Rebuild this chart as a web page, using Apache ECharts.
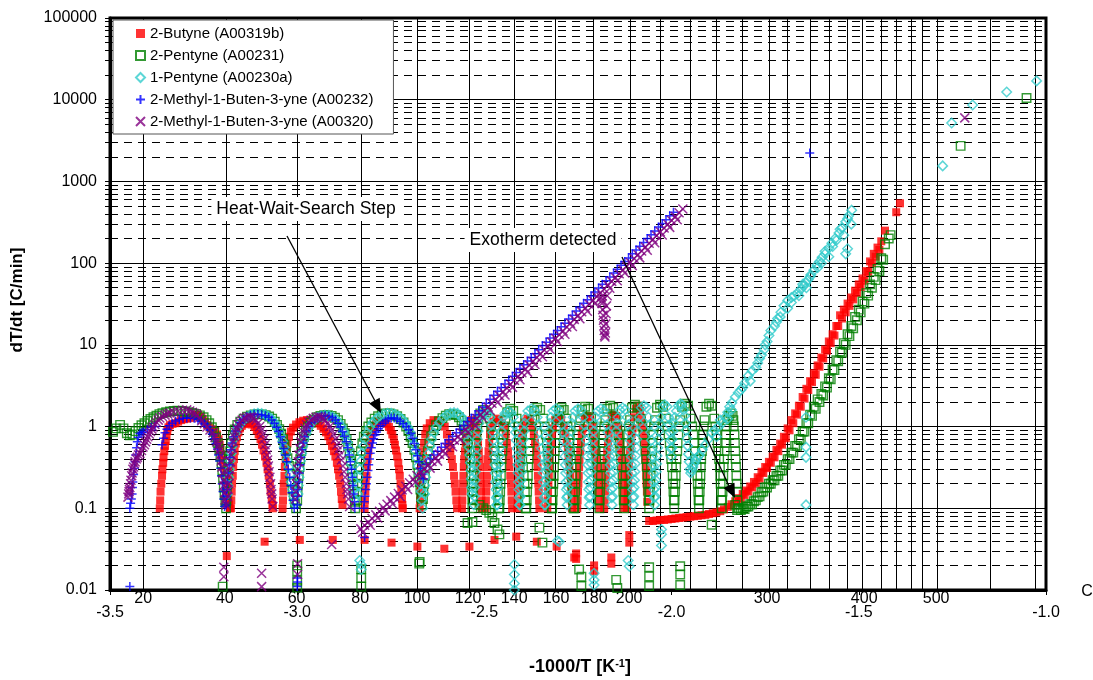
<!DOCTYPE html>
<html lang="en">
<head>
<meta charset="UTF-8" />
<title>HWS alkyne runs</title>
<style>
  body { margin: 0; padding: 0; background: #fff; }
  .chart { width: 1093px; height: 680px; }
</style>
</head>
<body>
<div class="chart"></div>
<script src="https://cdn.jsdelivr.net/npm/echarts@6/dist/echarts.min.js"></script>
<script>
const FONT = 'Liberation Sans, Arial, sans-serif';

// axis ticks / labels
const xTicks = [-3.5, -3.0, -2.5, -2.0, -1.5, -1.0];
const tempLabels = [20, 40, 60, 80, 100, 120, 140, 160, 180, 200, 300, 400, 500];
const tempGrid = [20, 40, 60, 80, 100, 120, 140, 160, 180, 200, 220, 240, 260, 280, 300,
  320, 340, 360, 380, 400, 420, 440, 460, 480, 500, 600, 700];
const decades = [0.01, 0.1, 1, 10, 100, 1000, 10000, 100000];

// ---- 2-Butyne (A00319b) ----
const butyneCycles = [
  [-3.367,0.1],[-3.366,0.125],[-3.365,0.16],[-3.363,0.2],[-3.361,0.25],[-3.36,0.3],[-3.358,0.36],[-3.357,0.42],[-3.355,0.5],[-3.353,0.58],[-3.351,0.67],[-3.349,0.77],[-3.347,0.88],[-3.344,0.98],[-3.34,1.04],[-3.333,1.08],[-3.325,1.1],[-3.318,1.15],[-3.31,1.2],[-3.302,1.23],[-3.294,1.25],[-3.286,1.27],[-3.278,1.33],[-3.271,1.38],[-3.265,1.4],[-3.259,1.33],[-3.253,1.25],[-3.247,1.15],[-3.241,1.05],[-3.234,0.97],[-3.226,0.92],[-3.219,0.88],[-3.214,0.8],[-3.21,0.7],[-3.207,0.6],[-3.205,0.52],[-3.202,0.45],[-3.199,0.39],[-3.196,0.33],[-3.193,0.28],[-3.19,0.23],[-3.188,0.19],[-3.186,0.16],[-3.184,0.13],[-3.182,0.11],[-3.18,0.1],
  [-3.177,0.1],[-3.176,0.125],[-3.175,0.16],[-3.174,0.2],[-3.172,0.25],[-3.171,0.32],[-3.169,0.4],[-3.167,0.5],[-3.164,0.62],[-3.161,0.74],[-3.157,0.85],[-3.153,0.95],[-3.148,1.02],[-3.142,1.07],[-3.135,1.1],[-3.128,1.1],[-3.121,1.06],[-3.114,0.99],[-3.108,0.9],[-3.103,0.8],[-3.098,0.7],[-3.094,0.6],[-3.09,0.51],[-3.086,0.43],[-3.082,0.36],[-3.079,0.3],[-3.076,0.25],[-3.073,0.2],[-3.071,0.16],[-3.068,0.13],[-3.066,0.11],[-3.065,0.1],
  [-3.039,0.1],[-3.038,0.125],[-3.037,0.16],[-3.036,0.2],[-3.034,0.25],[-3.033,0.32],[-3.031,0.4],[-3.029,0.5],[-3.026,0.62],[-3.022,0.75],[-3.017,0.87],[-3.011,0.97],[-3.003,1.06],[-2.994,1.13],[-2.984,1.18],[-2.974,1.2],[-2.964,1.19],[-2.954,1.15],[-2.945,1.09],[-2.937,1.02],[-2.93,0.94],[-2.923,0.85],[-2.917,0.76],[-2.912,0.67],[-2.907,0.58],[-2.902,0.5],[-2.898,0.43],[-2.894,0.36],[-2.891,0.3],[-2.888,0.25],[-2.885,0.2],[-2.883,0.16],[-2.881,0.13],[-2.879,0.11],
  [-2.82,0.1],[-2.819,0.125],[-2.818,0.16],[-2.817,0.2],[-2.815,0.25],[-2.814,0.32],[-2.812,0.4],[-2.81,0.5],[-2.807,0.62],[-2.804,0.75],[-2.8,0.88],[-2.795,1.0],[-2.789,1.09],[-2.782,1.16],[-2.775,1.18],[-2.768,1.15],[-2.761,1.08],[-2.755,0.99],[-2.75,0.9],[-2.746,0.8],[-2.742,0.7],[-2.739,0.6],[-2.736,0.51],[-2.733,0.43],[-2.73,0.36],[-2.728,0.3],[-2.726,0.25],[-2.724,0.2],[-2.722,0.16],[-2.72,0.13],[-2.719,0.11],[-2.718,0.1],
  [-2.673,0.1],[-2.672,0.125],[-2.671,0.16],[-2.67,0.2],[-2.669,0.25],[-2.668,0.32],[-2.666,0.4],[-2.664,0.5],[-2.661,0.63],[-2.658,0.8],[-2.654,0.95],[-2.646,1.1],[-2.636,1.2],[-2.625,1.18],[-2.615,1.1],[-2.606,1.0],[-2.6,0.8],[-2.595,0.63],[-2.591,0.5],[-2.587,0.4],[-2.584,0.32],[-2.581,0.25],[-2.579,0.2],[-2.577,0.16],[-2.575,0.125],[-2.573,0.1],
  [-2.56,0.1],[-2.559,0.125],[-2.558,0.16],[-2.557,0.2],[-2.556,0.25],[-2.555,0.32],[-2.554,0.4],[-2.552,0.5],[-2.55,0.63],[-2.548,0.8],[-2.545,0.95],[-2.54,1.1],[-2.534,1.2],[-2.528,1.12],[-2.523,1.0],[-2.52,0.8],[-2.517,0.63],[-2.515,0.5],[-2.513,0.4],[-2.512,0.32],[-2.511,0.25],[-2.51,0.2],[-2.509,0.16],[-2.508,0.125],[-2.507,0.1],
  [-2.497,0.1],[-2.496,0.125],[-2.495,0.16],[-2.494,0.2],[-2.493,0.25],[-2.492,0.32],[-2.491,0.4],[-2.489,0.5],[-2.487,0.63],[-2.485,0.8],[-2.482,0.95],[-2.476,1.15],[-2.468,1.25],[-2.46,1.2],[-2.453,1.1],[-2.447,1.0],[-2.443,0.8],[-2.44,0.63],[-2.437,0.5],[-2.435,0.4],[-2.433,0.32],[-2.431,0.25],[-2.429,0.2],[-2.428,0.16],[-2.427,0.125],[-2.426,0.1],
  [-2.412,0.1],[-2.411,0.125],[-2.41,0.16],[-2.409,0.2],[-2.408,0.25],[-2.407,0.32],[-2.406,0.4],[-2.404,0.5],[-2.402,0.63],[-2.4,0.8],[-2.397,0.95],[-2.392,1.15],[-2.385,1.25],[-2.378,1.2],[-2.372,1.0],[-2.368,0.8],[-2.365,0.63],[-2.362,0.5],[-2.36,0.4],[-2.358,0.32],[-2.357,0.25],[-2.356,0.2],[-2.355,0.16],[-2.354,0.125],[-2.353,0.1],
  [-2.332,0.1],[-2.331,0.125],[-2.33,0.16],[-2.329,0.2],[-2.328,0.25],[-2.327,0.32],[-2.326,0.4],[-2.324,0.5],[-2.322,0.63],[-2.32,0.8],[-2.317,0.95],[-2.311,1.2],[-2.303,1.3],[-2.295,1.25],[-2.288,1.0],[-2.284,0.8],[-2.28,0.63],[-2.277,0.5],[-2.275,0.4],[-2.273,0.32],[-2.271,0.25],[-2.269,0.2],[-2.268,0.16],[-2.267,0.125],[-2.266,0.1],
  [-2.252,0.1],[-2.251,0.125],[-2.25,0.16],[-2.249,0.2],[-2.248,0.25],[-2.247,0.32],[-2.246,0.4],[-2.244,0.5],[-2.242,0.63],[-2.24,0.8],[-2.237,0.95],[-2.232,1.25],[-2.225,1.35],[-2.218,1.3],[-2.212,1.0],[-2.208,0.8],[-2.205,0.63],[-2.202,0.5],[-2.2,0.4],[-2.198,0.32],[-2.197,0.25],[-2.196,0.2],[-2.195,0.16],[-2.194,0.125],[-2.193,0.1],
  [-2.18,0.1],[-2.179,0.125],[-2.178,0.16],[-2.177,0.2],[-2.176,0.25],[-2.175,0.32],[-2.174,0.4],[-2.172,0.5],[-2.17,0.63],[-2.168,0.8],[-2.165,0.95],[-2.16,1.3],[-2.154,1.4],[-2.148,1.35],[-2.143,1.0],[-2.14,0.8],[-2.137,0.63],[-2.135,0.5],[-2.133,0.4],[-2.132,0.32],[-2.131,0.25],[-2.13,0.2],[-2.129,0.16],[-2.128,0.125],[-2.127,0.1],
  [-2.119,0.1],[-2.118,0.125],[-2.117,0.16],[-2.116,0.2],[-2.115,0.25],[-2.114,0.32],[-2.113,0.4],[-2.111,0.5],[-2.109,0.63],[-2.107,0.8],[-2.104,0.95],[-2.1,1.3],[-2.095,1.65],[-2.089,1.8],[-2.084,1.55],[-2.08,1.25],[-2.077,1.0],[-2.075,0.8],[-2.073,0.63],[-2.071,0.5],[-2.07,0.4],[-2.069,0.32],[-2.068,0.25],[-2.067,0.2],[-2.066,0.16],[-2.065,0.12]
];
const butyneFlat = [
  [-2.06,0.07],[-2.05,0.07],[-2.04,0.071],[-2.03,0.072],[-2.02,0.072],[-2.01,0.073],[-2.0,0.074],[-1.99,0.075],[-1.98,0.076],[-1.97,0.077],[-1.96,0.078],[-1.95,0.079],[-1.94,0.08],[-1.93,0.081],[-1.92,0.082],[-1.91,0.083],[-1.9,0.085],[-1.89,0.087],[-1.88,0.089],[-1.87,0.092],[-1.86,0.097],[-1.85,0.104],[-1.84,0.112],[-1.83,0.122],[-1.82,0.133]
];
const butyneExo = [
  [-1.81,0.15],[-1.8,0.165],[-1.79,0.185],[-1.78,0.21],[-1.77,0.24],[-1.76,0.28],[-1.75,0.32],[-1.74,0.37],[-1.73,0.43],[-1.72,0.52],[-1.71,0.62],[-1.7,0.75],[-1.69,0.95],[-1.68,1.2],[-1.67,1.45],[-1.66,1.8],[-1.65,2.3],[-1.64,2.9],[-1.63,3.6],[-1.62,4.5],[-1.61,5.6],[-1.6,7],[-1.59,8.8],[-1.58,11],[-1.57,13.5],[-1.56,17],[-1.55,23],[-1.54,27],[-1.53,32],[-1.52,38],[-1.51,46],[-1.5,55],[-1.49,65],[-1.48,80],[-1.47,105],[-1.46,130],[-1.45,155],[-1.44,185],[-1.43,250],[-1.4,420],[-1.39,540],
  [-1.815,0.13],[-1.805,0.145],[-1.795,0.16],[-1.785,0.18],[-1.775,0.2],[-1.765,0.23],[-1.755,0.27],[-1.745,0.31],[-1.735,0.36],[-1.725,0.42],[-1.715,0.5],[-1.705,0.6],[-1.695,0.72],[-1.685,0.9],[-1.675,1.1],[-1.665,1.4],[-1.655,1.75],[-1.645,2.2],[-1.635,2.8],[-1.625,3.5],[-1.615,4.3],[-1.605,5.4],[-1.595,6.8],[-1.585,8.5],[-1.575,10.5],[-1.565,13],[-1.555,17],[-1.545,21],[-1.535,25],[-1.525,30],[-1.515,36],[-1.505,43],[-1.495,51],[-1.485,61],[-1.475,78],[-1.465,100],[-1.455,120],[-1.445,145]
];
const butyneLow = [
  [-3.188,0.026],[-3.087,0.039],[-2.993,0.041],[-2.905,0.041],[-2.82,0.041],[-2.748,0.038],[-2.679,0.034],[-2.607,0.032],[-2.54,0.034],[-2.473,0.041],[-2.415,0.045],[-2.36,0.039],[-2.307,0.034],[-2.26,0.025],[-2.255,0.028],[-2.255,0.024],[-2.207,0.02],[-2.207,0.017],[-2.161,0.025],[-2.161,0.021],[-2.113,0.047],[-2.113,0.038]
];

// ---- 2-Pentyne (A00231) ----
const pentyne2Cycles = [
  [-3.492,0.86],[-3.483,0.95],[-3.473,1.05],[-3.464,0.95],[-3.455,0.83],[-3.447,0.78],
  [-3.44,0.8],[-3.432,0.88],[-3.424,0.96],[-3.416,1.04],[-3.408,1.1],[-3.4,1.17],[-3.392,1.24],[-3.384,1.3],[-3.376,1.36],[-3.368,1.42],[-3.36,1.46],[-3.35,1.5],[-3.34,1.53],[-3.33,1.55],[-3.32,1.56],[-3.31,1.55],[-3.3,1.53],[-3.29,1.5],[-3.28,1.47],[-3.27,1.43],[-3.26,1.37],[-3.25,1.3],[-3.242,1.2],[-3.235,1.1],[-3.228,0.98],[-3.222,0.86],[-3.217,0.74],[-3.212,0.63],[-3.208,0.52],[-3.205,0.43],[-3.202,0.35],[-3.2,0.28],[-3.198,0.23],[-3.196,0.18],[-3.194,0.145],[-3.192,0.12],[-3.19,0.1],
  [-3.189,0.125],[-3.188,0.16],[-3.187,0.2],[-3.185,0.25],[-3.184,0.32],[-3.182,0.4],[-3.179,0.5],[-3.176,0.63],[-3.172,0.78],[-3.167,0.92],[-3.16,1.05],[-3.152,1.15],[-3.143,1.25],[-3.134,1.32],[-3.124,1.37],[-3.114,1.41],[-3.104,1.42],[-3.094,1.41],[-3.084,1.38],[-3.075,1.33],[-3.067,1.25],[-3.06,1.15],[-3.054,1.05],[-3.048,0.93],[-3.043,0.82],[-3.038,0.7],[-3.034,0.6],[-3.03,0.5],[-3.026,0.41],[-3.022,0.33],[-3.018,0.26],[-3.015,0.21],[-3.012,0.17],[-3.009,0.14],[-3.006,0.115],[-3.003,0.1],
  [-3.0,0.125],[-2.999,0.16],[-2.998,0.2],[-2.996,0.25],[-2.994,0.32],[-2.992,0.4],[-2.989,0.5],[-2.986,0.62],[-2.982,0.75],[-2.977,0.88],[-2.971,1.0],[-2.964,1.12],[-2.956,1.22],[-2.947,1.3],[-2.938,1.35],[-2.928,1.38],[-2.918,1.38],[-2.908,1.35],[-2.899,1.28],[-2.891,1.2],[-2.884,1.08],[-2.878,0.95],[-2.873,0.83],[-2.868,0.7],[-2.864,0.58],[-2.86,0.47],[-2.857,0.38],[-2.854,0.3],[-2.852,0.24],[-2.85,0.19],[-2.848,0.15],[-2.846,0.12],[-2.845,0.1],
  [-2.841,0.125],[-2.84,0.16],[-2.839,0.2],[-2.837,0.25],[-2.835,0.32],[-2.833,0.4],[-2.83,0.5],[-2.826,0.62],[-2.822,0.75],[-2.816,0.88],[-2.81,1.0],[-2.802,1.12],[-2.793,1.25],[-2.784,1.34],[-2.774,1.41],[-2.764,1.45],[-2.753,1.45],[-2.743,1.41],[-2.733,1.34],[-2.724,1.24],[-2.716,1.12],[-2.709,1.0],[-2.703,0.88],[-2.697,0.75],[-2.692,0.63],[-2.687,0.52],[-2.683,0.42],[-2.679,0.34],[-2.676,0.27],[-2.673,0.21],[-2.671,0.17],[-2.669,0.135],[-2.667,0.11],
  [-2.664,0.13],[-2.663,0.16],[-2.661,0.2],[-2.659,0.25],[-2.657,0.32],[-2.654,0.4],[-2.651,0.5],[-2.647,0.62],[-2.642,0.76],[-2.636,0.9],[-2.629,1.04],[-2.621,1.16],[-2.612,1.27],[-2.603,1.36],[-2.594,1.42],[-2.585,1.42],[-2.576,1.38],[-2.568,1.3],[-2.561,1.18],[-2.555,1.04],[-2.55,0.9],[-2.546,0.76],[-2.543,0.62],[-2.54,0.5],[-2.538,0.4],[-2.536,0.32],[-2.535,0.25],[-2.534,0.2],[-2.533,0.16],[-2.532,0.13],
  [-2.532,0.1],[-2.531,0.125],[-2.53,0.16],[-2.529,0.2],[-2.528,0.25],[-2.527,0.32],[-2.526,0.4],[-2.524,0.5],[-2.523,0.63],[-2.521,0.8],[-2.519,1.0],[-2.516,1.2],[-2.511,1.45],[-2.503,1.6],[-2.495,1.5],[-2.486,1.25],[-2.482,1.0],[-2.478,0.8],[-2.475,0.63],[-2.473,0.5],[-2.471,0.4],[-2.469,0.32],[-2.467,0.25],[-2.465,0.2],[-2.464,0.16],[-2.463,0.125],[-2.462,0.1],
  [-2.46,0.1],[-2.459,0.125],[-2.458,0.16],[-2.457,0.2],[-2.456,0.25],[-2.455,0.32],[-2.454,0.4],[-2.452,0.5],[-2.451,0.63],[-2.449,0.8],[-2.447,1.0],[-2.444,1.2],[-2.439,1.5],[-2.431,1.65],[-2.423,1.55],[-2.414,1.25],[-2.41,1.0],[-2.406,0.8],[-2.403,0.63],[-2.401,0.5],[-2.399,0.4],[-2.397,0.32],[-2.395,0.25],[-2.393,0.2],[-2.392,0.16],[-2.391,0.125],[-2.39,0.1],
  [-2.388,0.1],[-2.387,0.125],[-2.386,0.16],[-2.385,0.2],[-2.384,0.25],[-2.383,0.32],[-2.382,0.4],[-2.38,0.5],[-2.379,0.63],[-2.377,0.8],[-2.375,1.0],[-2.372,1.2],[-2.367,1.55],[-2.359,1.7],[-2.351,1.6],[-2.343,1.25],[-2.339,1.0],[-2.336,0.8],[-2.333,0.63],[-2.331,0.5],[-2.329,0.4],[-2.327,0.32],[-2.325,0.25],[-2.323,0.2],[-2.322,0.16],[-2.321,0.125],[-2.32,0.1],
  [-2.319,0.1],[-2.318,0.125],[-2.317,0.16],[-2.316,0.2],[-2.315,0.25],[-2.314,0.32],[-2.313,0.4],[-2.312,0.5],[-2.311,0.63],[-2.309,0.8],[-2.307,1.0],[-2.305,1.2],[-2.3,1.55],[-2.294,1.7],[-2.288,1.6],[-2.281,1.25],[-2.278,1.0],[-2.275,0.8],[-2.273,0.63],[-2.271,0.5],[-2.269,0.4],[-2.267,0.32],[-2.266,0.25],[-2.265,0.2],[-2.264,0.16],[-2.263,0.125],[-2.262,0.1],
  [-2.26,0.1],[-2.259,0.125],[-2.258,0.16],[-2.257,0.2],[-2.256,0.25],[-2.255,0.32],[-2.254,0.4],[-2.252,0.5],[-2.251,0.63],[-2.249,0.8],[-2.247,1.0],[-2.244,1.2],[-2.239,1.6],[-2.231,1.75],[-2.223,1.65],[-2.215,1.25],[-2.211,1.0],[-2.208,0.8],[-2.205,0.63],[-2.203,0.5],[-2.201,0.4],[-2.199,0.32],[-2.197,0.25],[-2.196,0.2],[-2.195,0.16],[-2.194,0.125],[-2.193,0.1],
  [-2.192,0.125],[-2.191,0.16],[-2.19,0.2],[-2.189,0.25],[-2.188,0.32],[-2.187,0.4],[-2.185,0.5],[-2.184,0.63],[-2.182,0.8],[-2.18,1.0],[-2.177,1.2],[-2.172,1.65],[-2.164,1.8],[-2.156,1.7],[-2.149,1.25],[-2.145,1.0],[-2.142,0.8],[-2.139,0.63],[-2.137,0.5],[-2.135,0.4],[-2.133,0.32],[-2.131,0.25],[-2.13,0.2],[-2.129,0.16],[-2.128,0.125],[-2.127,0.1],
  [-2.126,0.125],[-2.125,0.16],[-2.124,0.2],[-2.123,0.25],[-2.122,0.32],[-2.121,0.4],[-2.119,0.5],[-2.118,0.63],[-2.116,0.8],[-2.114,1.0],[-2.111,1.2],[-2.106,1.7],[-2.098,1.85],[-2.09,1.75],[-2.082,1.25],[-2.078,1.0],[-2.075,0.8],[-2.072,0.63],[-2.07,0.5],[-2.068,0.4],[-2.066,0.32],[-2.064,0.25],[-2.063,0.2],[-2.062,0.16],[-2.061,0.125],[-2.06,0.1],
  [-2.059,0.125],[-2.058,0.16],[-2.057,0.2],[-2.056,0.25],[-2.055,0.32],[-2.054,0.4],[-2.052,0.5],[-2.051,0.63],[-2.049,0.8],[-2.047,1.0],[-2.044,1.2],[-2.039,1.7],[-2.031,1.85],[-2.023,1.75],[-2.015,1.25],[-2.011,1.0],[-2.008,0.8],[-2.005,0.63],[-2.003,0.5],[-2.001,0.4],[-1.999,0.32],[-1.997,0.25],[-1.996,0.2],[-1.995,0.16],[-1.994,0.125],[-1.993,0.1],
  [-1.992,0.125],[-1.991,0.16],[-1.99,0.2],[-1.989,0.25],[-1.988,0.32],[-1.987,0.4],[-1.985,0.5],[-1.984,0.63],[-1.982,0.8],[-1.98,1.0],[-1.977,1.2],[-1.972,1.75],[-1.964,1.9],[-1.956,1.8],[-1.949,1.25],[-1.945,1.0],[-1.942,0.8],[-1.939,0.63],[-1.937,0.5],[-1.935,0.4],[-1.933,0.32],[-1.931,0.25],[-1.93,0.2],[-1.929,0.16],[-1.928,0.125],[-1.927,0.1],
  [-1.926,0.125],[-1.925,0.16],[-1.924,0.2],[-1.923,0.25],[-1.922,0.32],[-1.921,0.4],[-1.919,0.5],[-1.918,0.63],[-1.916,0.8],[-1.914,1.0],[-1.912,1.2],[-1.907,1.75],[-1.9,1.9],[-1.893,1.8],[-1.886,1.25],[-1.883,1.0],[-1.88,0.8],[-1.877,0.63],[-1.875,0.5],[-1.873,0.4],[-1.871,0.32],[-1.87,0.25],[-1.869,0.2],[-1.868,0.16],[-1.867,0.125],[-1.866,0.1],
  [-1.865,0.125],[-1.864,0.16],[-1.863,0.2],[-1.862,0.25],[-1.861,0.32],[-1.86,0.4],[-1.858,0.5],[-1.857,0.63],[-1.855,0.8],[-1.853,1.0],[-1.851,1.2],[-1.847,1.35],[-1.842,1.45],[-1.837,1.35],[-1.835,1.2],[-1.834,1.0],[-1.832,0.8],[-1.831,0.63],[-1.83,0.5],[-1.829,0.4],[-1.828,0.32],[-1.827,0.25],[-1.826,0.2],[-1.825,0.16],[-1.824,0.125],[-1.823,0.1]
];
const pentyne2Exo = [
  [-1.83,0.11],[-1.82,0.1],[-1.81,0.1],[-1.8,0.105],[-1.79,0.112],[-1.78,0.122],[-1.77,0.137],[-1.76,0.157],[-1.75,0.18],[-1.74,0.2],[-1.73,0.22],[-1.72,0.25],[-1.71,0.29],[-1.7,0.34],[-1.69,0.4],[-1.68,0.48],[-1.67,0.58],[-1.66,0.7],[-1.65,0.86],[-1.64,1.1],[-1.63,1.4],[-1.62,1.75],[-1.61,2.15],[-1.6,2.5],[-1.59,3.1],[-1.58,3.9],[-1.57,5],[-1.56,6.5],[-1.55,8.3],[-1.54,10.5],[-1.53,13.5],[-1.52,17],[-1.51,22],[-1.5,27],[-1.49,34],[-1.48,43],[-1.47,55],[-1.46,68],[-1.45,85],[-1.44,115],[-1.43,170],[-1.42,200],[-1.415,220],
  [-1.825,0.095],[-1.815,0.095],[-1.805,0.098],[-1.795,0.105],[-1.785,0.112],[-1.775,0.125],[-1.765,0.14],[-1.755,0.16],[-1.745,0.18],[-1.735,0.2],[-1.725,0.22],[-1.715,0.25],[-1.705,0.29],[-1.695,0.34],[-1.685,0.4],[-1.675,0.48],[-1.665,0.58],[-1.655,0.7],[-1.645,0.87],[-1.635,1.1],[-1.625,1.35],[-1.615,1.65],[-1.605,2.0],[-1.595,2.4],[-1.585,3.0],[-1.575,3.8],[-1.565,4.9],[-1.555,6.3],[-1.545,8],[-1.535,10],[-1.525,12.8],[-1.515,16],[-1.505,20],[-1.495,25],[-1.485,32],[-1.475,40],[-1.465,50],[-1.455,62],[-1.445,80],[-1.435,110]
];
const pentyne2Low = [
  [-3.199,0.011],[-3.0,0.02],[-3.0,0.017],[-3.0,0.013],[-3.0,0.0107],[-2.829,0.018],[-2.829,0.014],[-2.829,0.011],[-2.673,0.022],[-2.674,0.021],
  [-2.545,0.066],[-2.532,0.068],[-2.513,0.11],[-2.503,0.1],[-2.495,0.095],[-2.487,0.088],[-2.479,0.078],[-2.473,0.066],[-2.465,0.055],[-2.46,0.048],
  [-2.353,0.058],[-2.345,0.038],[-2.247,0.0178],[-2.241,0.0145],[-2.241,0.0112],[-2.148,0.0133],[-2.145,0.0106],[-2.06,0.019],[-2.06,0.0147],[-2.06,0.0112],[-1.977,0.0195],[-1.977,0.0155],[-1.977,0.0115],[-1.893,0.063]
];
const pentyne2High = [[-1.228,2720],[-1.052,10500]];

// ---- 1-Pentyne (A00230a) ----
const pentyne1Cycles = [
  [-3.186,0.15],[-3.185,0.19],[-3.183,0.24],[-3.181,0.3],[-3.179,0.38],[-3.176,0.47],[-3.173,0.58],[-3.169,0.7],[-3.164,0.83],[-3.158,0.96],[-3.151,1.08],[-3.143,1.2],[-3.134,1.3],[-3.125,1.38],[-3.115,1.43],[-3.105,1.45],[-3.095,1.44],[-3.085,1.4],[-3.076,1.33],[-3.068,1.24],[-3.061,1.13],[-3.055,1.01],[-3.049,0.89],[-3.044,0.77],[-3.039,0.66],[-3.035,0.56],[-3.031,0.47],[-3.027,0.39],[-3.023,0.32],[-3.019,0.26],[-3.016,0.21],[-3.013,0.17],[-3.01,0.14],[-3.007,0.115],
  [-2.998,0.15],[-2.997,0.19],[-2.995,0.24],[-2.993,0.3],[-2.991,0.38],[-2.988,0.47],[-2.985,0.58],[-2.981,0.7],[-2.976,0.83],[-2.97,0.96],[-2.963,1.08],[-2.955,1.2],[-2.946,1.29],[-2.936,1.35],[-2.926,1.38],[-2.916,1.37],[-2.906,1.32],[-2.897,1.24],[-2.889,1.13],[-2.882,1.01],[-2.876,0.88],[-2.871,0.76],[-2.866,0.64],[-2.862,0.53],[-2.859,0.43],[-2.856,0.35],[-2.853,0.28],[-2.851,0.22],[-2.849,0.17],[-2.847,0.13],
  [-2.838,0.15],[-2.837,0.19],[-2.835,0.24],[-2.833,0.3],[-2.83,0.38],[-2.827,0.47],[-2.823,0.58],[-2.819,0.7],[-2.813,0.84],[-2.806,0.98],[-2.798,1.12],[-2.789,1.25],[-2.779,1.35],[-2.769,1.42],[-2.759,1.45],[-2.749,1.45],[-2.739,1.41],[-2.729,1.34],[-2.72,1.24],[-2.712,1.12],[-2.705,0.99],[-2.699,0.86],[-2.693,0.73],[-2.688,0.61],[-2.684,0.5],[-2.68,0.41],[-2.677,0.33],[-2.674,0.26],[-2.671,0.2],[-2.669,0.16],[-2.667,0.125],[-2.665,0.1],
  [-2.66,0.15],[-2.659,0.19],[-2.657,0.24],[-2.655,0.3],[-2.652,0.38],[-2.649,0.47],[-2.645,0.58],[-2.641,0.7],[-2.635,0.84],[-2.628,0.98],[-2.62,1.12],[-2.611,1.26],[-2.601,1.38],[-2.591,1.46],[-2.581,1.48],[-2.572,1.45],[-2.564,1.36],[-2.558,1.24],[-2.553,1.1],[-2.549,0.96],[-2.546,0.82],[-2.543,0.68],[-2.541,0.56],[-2.539,0.45],[-2.537,0.36],[-2.536,0.29],[-2.535,0.23],[-2.534,0.18],[-2.533,0.15],
  [-2.528,0.11],[-2.527,0.14],[-2.526,0.18],[-2.525,0.22],[-2.524,0.28],[-2.523,0.35],[-2.522,0.44],[-2.52,0.55],[-2.519,0.7],[-2.517,0.88],[-2.515,1.1],[-2.512,1.3],[-2.507,1.4],[-2.499,1.5],[-2.491,1.42],[-2.485,1.3],[-2.481,1.05],[-2.478,0.85],[-2.476,0.68],[-2.474,0.54],[-2.473,0.43],[-2.472,0.34],[-2.471,0.27],[-2.47,0.21],[-2.469,0.17],[-2.468,0.135],[-2.467,0.11],
  [-2.466,0.11],[-2.465,0.14],[-2.464,0.18],[-2.463,0.22],[-2.462,0.28],[-2.461,0.35],[-2.46,0.44],[-2.458,0.55],[-2.457,0.7],[-2.455,0.88],[-2.453,1.1],[-2.45,1.3],[-2.445,1.45],[-2.437,1.55],[-2.429,1.48],[-2.423,1.3],[-2.42,1.05],[-2.417,0.85],[-2.415,0.68],[-2.413,0.54],[-2.412,0.43],[-2.411,0.34],[-2.41,0.27],[-2.409,0.21],[-2.408,0.17],[-2.407,0.135],[-2.406,0.11],
  [-2.405,0.11],[-2.404,0.14],[-2.403,0.18],[-2.402,0.22],[-2.401,0.28],[-2.4,0.35],[-2.399,0.44],[-2.397,0.55],[-2.396,0.7],[-2.394,0.88],[-2.392,1.1],[-2.389,1.3],[-2.384,1.55],[-2.375,1.65],[-2.366,1.58],[-2.359,1.3],[-2.355,1.05],[-2.352,0.85],[-2.349,0.68],[-2.347,0.54],[-2.345,0.43],[-2.344,0.34],[-2.343,0.27],[-2.342,0.21],[-2.341,0.17],[-2.34,0.135],[-2.339,0.11],
  [-2.338,0.11],[-2.337,0.14],[-2.336,0.18],[-2.335,0.22],[-2.334,0.28],[-2.333,0.35],[-2.332,0.44],[-2.33,0.55],[-2.329,0.7],[-2.327,0.88],[-2.325,1.1],[-2.322,1.3],[-2.317,1.55],[-2.309,1.65],[-2.301,1.58],[-2.296,1.3],[-2.293,1.05],[-2.29,0.85],[-2.288,0.68],[-2.286,0.54],[-2.285,0.43],[-2.284,0.34],[-2.283,0.27],[-2.282,0.21],[-2.281,0.17],[-2.28,0.135],[-2.279,0.11],
  [-2.278,0.14],[-2.277,0.18],[-2.276,0.22],[-2.275,0.28],[-2.274,0.35],[-2.273,0.44],[-2.271,0.55],[-2.27,0.7],[-2.268,0.88],[-2.266,1.1],[-2.263,1.3],[-2.258,1.55],[-2.25,1.65],[-2.242,1.58],[-2.236,1.3],[-2.233,1.05],[-2.23,0.85],[-2.228,0.68],[-2.226,0.54],[-2.225,0.43],[-2.224,0.34],[-2.223,0.27],[-2.222,0.21],[-2.221,0.17],[-2.22,0.135],[-2.219,0.11],
  [-2.218,0.14],[-2.217,0.18],[-2.216,0.22],[-2.215,0.28],[-2.214,0.35],[-2.213,0.44],[-2.211,0.55],[-2.21,0.7],[-2.208,0.88],[-2.206,1.1],[-2.203,1.3],[-2.197,1.55],[-2.189,1.65],[-2.181,1.58],[-2.176,1.3],[-2.173,1.05],[-2.17,0.85],[-2.168,0.68],[-2.166,0.54],[-2.165,0.43],[-2.164,0.34],[-2.163,0.27],[-2.162,0.21],[-2.161,0.17],[-2.16,0.135],[-2.159,0.11],
  [-2.158,0.14],[-2.157,0.18],[-2.156,0.22],[-2.155,0.28],[-2.154,0.35],[-2.153,0.44],[-2.151,0.55],[-2.15,0.7],[-2.148,0.88],[-2.146,1.1],[-2.143,1.3],[-2.138,1.6],[-2.131,1.7],[-2.124,1.62],[-2.119,1.3],[-2.116,1.05],[-2.113,0.85],[-2.111,0.68],[-2.109,0.54],[-2.108,0.43],[-2.107,0.34],[-2.106,0.27],[-2.105,0.21],[-2.104,0.17],[-2.103,0.135],[-2.102,0.11],
  [-2.101,0.14],[-2.1,0.18],[-2.099,0.22],[-2.098,0.28],[-2.097,0.35],[-2.096,0.44],[-2.094,0.55],[-2.093,0.7],[-2.091,0.88],[-2.089,1.1],[-2.086,1.3],[-2.081,1.7],[-2.074,1.8],[-2.067,1.72],[-2.062,1.3],[-2.059,1.05],[-2.056,0.85],[-2.054,0.68],[-2.052,0.54],[-2.051,0.43],[-2.05,0.34],[-2.049,0.27],[-2.048,0.21],[-2.047,0.17],[-2.046,0.135],[-2.045,0.11],
  [-2.044,0.14],[-2.043,0.18],[-2.042,0.22],[-2.041,0.28],[-2.04,0.35],[-2.039,0.44],[-2.037,0.55],[-2.036,0.7],[-2.034,0.88],[-2.032,1.1],[-2.029,1.3],[-2.024,1.75],[-2.018,1.85],[-2.012,1.75],[-2.008,1.3],[-2.006,1.05],[-2.004,0.85],[-2.003,0.68],[-2.002,0.54],[-2.001,0.43],
  [-1.999,0.55],[-1.998,0.7],[-1.996,0.88],[-1.994,1.1],[-1.991,1.3],[-1.987,1.55],[-1.982,1.8],[-1.977,1.9],[-1.972,1.85],[-1.968,1.6],[-1.965,1.35],[-1.963,1.1],[-1.961,0.9],[-1.959,0.72],[-1.957,0.58],[-1.955,0.46],[-1.953,0.37],[-1.951,0.3],[-1.949,0.27],[-1.946,0.29],[-1.943,0.32],[-1.94,0.35],[-1.936,0.38],[-1.932,0.41],[-1.928,0.44]
];
const pentyne1Exo = [
  [-1.925,0.45],[-1.918,0.52],[-1.91,0.6],[-1.902,0.7],[-1.892,0.84],[-1.885,0.9],[-1.875,1.0],[-1.865,1.1],[-1.857,1.3],[-1.85,1.5],[-1.845,1.75],[-1.839,1.95],[-1.83,2.3],[-1.822,2.6],[-1.815,2.8],[-1.805,3.4],[-1.795,4.2],[-1.785,4.8],[-1.775,5.3],[-1.765,6.8],[-1.753,8.7],[-1.745,11],[-1.735,15],[-1.725,17],[-1.717,21],[-1.708,25],[-1.7,30],[-1.69,35],[-1.68,38],[-1.672,40],[-1.663,43],[-1.655,48],[-1.648,52],[-1.642,57],[-1.635,63],[-1.628,72],[-1.62,82],[-1.612,95],[-1.605,105],[-1.598,118],[-1.59,130],[-1.58,153],[-1.572,175],[-1.563,200],[-1.553,233],[-1.545,270],[-1.535,320],[-1.527,380],[-1.519,445],
  [-1.88,0.75],[-1.87,1.2],[-1.85,1.25],[-1.84,1.6],[-1.81,3.0],[-1.79,3.6],[-1.77,6],[-1.76,7.5],[-1.75,10],[-1.74,13],[-1.72,19],[-1.71,22],[-1.69,28],[-1.68,33],[-1.66,40],[-1.65,55],[-1.64,50],[-1.63,68],[-1.61,88],[-1.6,100],[-1.59,140],[-1.58,120],[-1.57,160],[-1.56,190],[-1.55,260],[-1.54,220],[-1.53,350],[-1.52,300],[-1.535,130],[-1.53,150]
];
const pentyne1Low = [
  [-2.833,0.023],[-2.829,0.0205],[-2.829,0.0178],[-2.42,0.0205],[-2.42,0.0155],[-2.42,0.012],[-2.42,0.01],[-2.305,0.04],[-2.3,0.039],[-2.207,0.016],[-2.207,0.0133],[-2.207,0.0115],[-2.113,0.0195],[-2.116,0.023],[-2.027,0.055],[-2.027,0.048],[-2.027,0.035],
  [-1.641,1.3],[-1.641,0.56],[-1.641,0.42],[-1.641,0.11]
];
const pentyne1High = [[-1.276,1550],[-1.252,5200],[-1.196,8630],[-1.105,12450],[-1.025,17000]];

// ---- 2-Methyl-1-Buten-3-yne (A00232) ----
const mbyA232Cycles = [
  [-3.447,0.1],[-3.445,0.115],[-3.443,0.13],[-3.441,0.15],[-3.44,0.18],[-3.439,0.21],[-3.437,0.26],[-3.435,0.31],[-3.433,0.37],[-3.431,0.45],[-3.429,0.55],[-3.427,0.65],[-3.424,0.74],[-3.42,0.82],[-3.415,0.85],[-3.41,0.86],[-3.4,0.92],[-3.39,0.98],[-3.38,1.0],[-3.361,0.6],[-3.357,0.72],[-3.353,0.84],[-3.348,0.93],[-3.342,1.02],[-3.334,1.1],[-3.325,1.17],[-3.315,1.22],[-3.305,1.26],[-3.295,1.27],[-3.285,1.27],[-3.275,1.26],[-3.265,1.22],[-3.256,1.16],[-3.248,1.08],[-3.24,1.0],[-3.233,0.91],[-3.227,0.81],[-3.222,0.71],[-3.217,0.62],[-3.213,0.53],[-3.21,0.45],[-3.207,0.38],[-3.204,0.31],[-3.202,0.25],[-3.2,0.2],[-3.198,0.16],[-3.196,0.13],[-3.194,0.105],
  [-3.19,0.11],[-3.189,0.14],[-3.188,0.17],[-3.186,0.21],[-3.184,0.27],[-3.182,0.34],[-3.18,0.42],[-3.177,0.52],[-3.174,0.63],[-3.17,0.75],[-3.165,0.88],[-3.159,1.0],[-3.152,1.12],[-3.144,1.23],[-3.135,1.32],[-3.125,1.38],[-3.115,1.42],[-3.105,1.42],[-3.095,1.4],[-3.085,1.36],[-3.076,1.3],[-3.068,1.2],[-3.061,1.1],[-3.055,0.98],[-3.05,0.87],[-3.045,0.75],[-3.04,0.64],[-3.036,0.54],[-3.032,0.45],[-3.028,0.37],[-3.024,0.3],[-3.02,0.24],[-3.017,0.19],[-3.014,0.155],[-3.011,0.125],[-3.008,0.1],
  [-3.0,0.11],[-2.999,0.14],[-2.998,0.17],[-2.996,0.21],[-2.994,0.27],[-2.992,0.34],[-2.99,0.42],[-2.987,0.52],[-2.984,0.63],[-2.98,0.75],[-2.975,0.88],[-2.969,1.0],[-2.962,1.12],[-2.954,1.22],[-2.945,1.3],[-2.935,1.35],[-2.925,1.36],[-2.915,1.34],[-2.906,1.28],[-2.898,1.2],[-2.891,1.1],[-2.885,0.99],[-2.879,0.87],[-2.874,0.76],[-2.869,0.65],[-2.865,0.55],[-2.861,0.45],[-2.858,0.37],[-2.855,0.3],[-2.853,0.24],[-2.851,0.19],[-2.849,0.15],[-2.847,0.12],[-2.846,0.1],
  [-2.822,0.1],[-2.821,0.12],[-2.819,0.14],[-2.817,0.17],[-2.815,0.2],[-2.813,0.24],[-2.811,0.29],[-2.809,0.34],[-2.807,0.4],[-2.805,0.47],[-2.802,0.55],[-2.799,0.63],[-2.796,0.71],[-2.792,0.79],[-2.788,0.86],[-2.783,0.94],[-2.777,1.02],[-2.771,1.1],[-2.764,1.17],[-2.757,1.23],[-2.749,1.27],[-2.741,1.27],[-2.733,1.23],[-2.725,1.16],[-2.717,1.08],[-2.709,1.0],[-2.702,0.92],[-2.696,0.83],[-2.691,0.72],[-2.687,0.62],[-2.683,0.52],[-2.679,0.44],[-2.675,0.37],[-2.671,0.31],[-2.667,0.26],[-2.663,0.23]
];
const mbyA232Line = [
  [-2.655,0.345],[-2.645,0.4],[-2.635,0.45],[-2.625,0.5],[-2.615,0.56],[-2.605,0.62],[-2.595,0.69],[-2.585,0.76],[-2.575,0.84],[-2.565,0.93],[-2.555,1.03],[-2.545,1.15],[-2.535,1.27],[-2.525,1.4],[-2.515,1.56],[-2.505,1.73],[-2.495,1.93],[-2.485,2.16],[-2.475,2.42],[-2.465,2.7],[-2.455,3.0],[-2.445,3.33],[-2.435,3.68],[-2.425,4.14],[-2.415,4.6],[-2.405,5.12],[-2.395,5.7],[-2.385,6.33],[-2.375,7.0],[-2.365,7.8],[-2.355,8.74],[-2.345,9.8],[-2.335,10.8],[-2.325,12.1],[-2.315,13.5],[-2.305,15],[-2.295,16.7],[-2.285,18.4],[-2.275,20.7],[-2.265,23],[-2.255,25.9],[-2.245,28.8],[-2.235,32.2],[-2.225,35.7],[-2.215,39.7],[-2.205,44.3],[-2.195,49.5],[-2.185,55.2],[-2.175,61],[-2.165,67.9],[-2.155,75.9],[-2.145,84],[-2.135,94.3],[-2.125,105],[-2.115,116],[-2.105,130],[-2.095,145],[-2.085,161],[-2.075,179],[-2.065,200],[-2.055,222],[-2.045,247],[-2.035,276],[-2.025,306],[-2.015,340],[-2.005,380],[-1.995,420]
];
const mbyA232Low = [[-3.447,0.011],[-3.0,0.014],[-3.0,0.011],[-2.999,0.0125],[-2.82,0.044]];
const mbyA232High = [[-1.631,2230]];

// ---- 2-Methyl-1-Buten-3-yne (A00320) ----
const mbyA320Cycles = [
  [-3.452,0.137],[-3.45,0.15],[-3.449,0.16],[-3.448,0.17],[-3.447,0.18],[-3.445,0.2],[-3.444,0.22],[-3.442,0.25],[-3.441,0.27],[-3.439,0.3],[-3.437,0.32],[-3.435,0.35],[-3.433,0.37],[-3.43,0.4],[-3.427,0.42],[-3.424,0.45],[-3.42,0.47],[-3.416,0.51],[-3.412,0.56],[-3.408,0.6],[-3.405,0.65],[-3.402,0.7],[-3.399,0.75],[-3.395,0.81],[-3.392,0.87],[-3.388,0.93],[-3.385,0.99],[-3.38,1.06],[-3.376,1.13],[-3.371,1.2],[-3.367,1.27],[-3.36,1.33],[-3.353,1.38],[-3.346,1.43],[-3.34,1.47],[-3.33,1.51],[-3.318,1.55],[-3.306,1.58],[-3.295,1.6],[-3.287,1.55],[-3.28,1.5],[-3.274,1.44],[-3.268,1.38],[-3.261,1.28],[-3.255,1.18],[-3.248,1.08],[-3.241,0.99],[-3.233,0.91],[-3.225,0.84],[-3.22,0.74],[-3.215,0.65],[-3.211,0.58],[-3.207,0.52],[-3.205,0.45],[-3.203,0.38],[-3.201,0.32],[-3.199,0.27],[-3.197,0.22],[-3.196,0.19],[-3.194,0.155],[-3.193,0.126],[-3.19,0.11],
  [-3.186,0.14],[-3.185,0.17],[-3.183,0.2],[-3.182,0.25],[-3.18,0.3],[-3.178,0.37],[-3.176,0.45],[-3.174,0.54],[-3.171,0.65],[-3.168,0.75],[-3.165,0.85],[-3.161,0.95],[-3.157,1.05],[-3.152,1.13],[-3.147,1.2],[-3.141,1.26],[-3.135,1.3],[-3.128,1.31],[-3.122,1.3],[-3.116,1.26],[-3.11,1.2],[-3.105,1.1],[-3.1,1.0],[-3.096,0.9],[-3.092,0.8],[-3.089,0.7],[-3.086,0.6],[-3.083,0.52],[-3.081,0.45],[-3.079,0.39],[-3.077,0.33],[-3.075,0.28],[-3.073,0.24],[-3.071,0.2],[-3.07,0.17],[-3.068,0.15],[-3.067,0.13],[-3.065,0.105],
  [-3.005,0.13],[-3.004,0.16],[-3.002,0.2],[-3.001,0.25],[-2.999,0.3],[-2.997,0.37],[-2.995,0.45],[-2.993,0.54],[-2.99,0.65],[-2.987,0.75],[-2.983,0.85],[-2.979,0.95],[-2.975,1.05],[-2.969,1.13],[-2.963,1.2],[-2.957,1.26],[-2.95,1.3],[-2.943,1.31],[-2.937,1.3],[-2.931,1.26],[-2.925,1.2],[-2.919,1.1],[-2.913,1.0],[-2.908,0.9],[-2.903,0.8],[-2.898,0.7],[-2.894,0.6],[-2.89,0.52],[-2.886,0.45],[-2.882,0.39],[-2.878,0.33],[-2.875,0.28],[-2.872,0.24],[-2.869,0.2],[-2.867,0.17],[-2.865,0.15],[-2.863,0.13],[-2.86,0.105]
];
const mbyA320Line = [
  [-2.83,0.056],[-2.82,0.062],[-2.81,0.068],[-2.8,0.075],[-2.79,0.083],[-2.78,0.092],[-2.77,0.102],[-2.76,0.112],[-2.75,0.124],[-2.74,0.137],[-2.73,0.152],[-2.72,0.168],[-2.71,0.186],[-2.7,0.205],[-2.69,0.227],[-2.68,0.251],[-2.67,0.277],[-2.66,0.306],[-2.65,0.339],[-2.64,0.374],[-2.63,0.414],[-2.62,0.457],[-2.61,0.506],[-2.6,0.558],[-2.59,0.618],[-2.58,0.682],[-2.57,0.755],[-2.56,0.834],[-2.55,0.922],[-2.54,1.02],[-2.53,1.13],[-2.52,1.26],[-2.51,1.4],[-2.5,1.56],[-2.49,1.73],[-2.48,1.93],[-2.47,2.15],[-2.46,2.39],[-2.45,2.67],[-2.44,2.97],[-2.43,3.3],[-2.42,3.68],[-2.41,4.09],[-2.4,4.56],[-2.39,5.07],[-2.38,5.65],[-2.37,6.29],[-2.36,7.0],[-2.35,7.8],[-2.34,8.67],[-2.33,9.66],[-2.32,10.8],[-2.31,12.0],[-2.3,13.3],[-2.29,14.8],[-2.28,16.5],[-2.27,18.4],[-2.26,20.5],[-2.25,22.8],[-2.24,25.4],[-2.23,28.2],[-2.22,31.5],[-2.21,35],[-2.2,39],[-2.19,43.4],[-2.18,48.3],[-2.17,53.8],[-2.16,59.8],[-2.15,66.7],[-2.14,74.2],[-2.13,82.6],[-2.12,92],[-2.11,102],[-2.1,114],[-2.09,127],[-2.08,141],[-2.07,157],[-2.06,175],[-2.05,195],[-2.04,217],[-2.03,242],[-2.02,269],[-2.01,299],[-2.0,333],[-1.99,371],[-1.98,413],[-1.97,460],
  [-2.825,0.051],[-2.805,0.062],[-2.785,0.076],[-2.765,0.093],[-2.745,0.113],[-2.725,0.139],[-2.705,0.17],[-2.685,0.208],[-2.665,0.253],[-2.645,0.31],[-2.625,0.378],[-2.605,0.463],[-2.585,0.565],[-2.565,0.691],[-2.545,0.844],[-2.525,1.03],[-2.505,1.28],[-2.485,1.58],[-2.465,1.97],[-2.445,2.44],[-2.425,3.02],[-2.405,3.74],[-2.385,4.64],[-2.365,5.76],[-2.345,7.14],[-2.325,8.84],[-2.305,11.0],[-2.285,13.5],[-2.265,16.8],[-2.245,20.9],[-2.225,25.8],[-2.205,32],[-2.185,39.7],[-2.165,49.2],[-2.145,61],[-2.125,75.6],[-2.105,93.3],[-2.085,116],[-2.065,144],[-2.045,178],[-2.025,221],[-2.005,274],[-1.985,339]
];
const mbyA320Dip = [
  [-2.188,38],[-2.186,32],[-2.185,35],[-2.184,27],[-2.183,23],[-2.182,20],[-2.181,17],[-2.18,15],[-2.179,13],[-2.178,12.5],[-2.177,14],[-2.176,18],[-2.175,24],[-2.174,30],[-2.172,40]
];
const mbyA320Low = [[-3.196,0.019],[-3.196,0.0145],[-3.095,0.016],[-3.095,0.011],[-2.999,0.021],[-2.999,0.0155],[-2.908,0.036]];
const mbyA320High = [[-1.217,5990]];

const toInv = t => -1000 / (t + 273.15);
const isMajor = v => Math.abs(v * 2 - Math.round(v * 2)) < 1e-6;
const yTickValues = decades.concat(
  decades.slice(0, -1).flatMap(d => [2, 3, 4, 5, 6, 7, 8, 9].map(m => +(d * m).toPrecision(3)))
);

const gridLines = [];
tempGrid.forEach(t => gridLines.push({ xAxis: toInv(t), lineStyle: { color: '#000', width: 1, type: 'solid' } }));
decades.slice(1, -1).forEach(d => gridLines.push({ yAxis: d, lineStyle: { color: '#000', width: 1.2, type: 'solid' } }));
yTickValues.filter(v => decades.indexOf(v) < 0).forEach(v =>
  gridLines.push({ yAxis: v, lineStyle: { color: '#000', width: 1, type: [8, 6] } }));

const PLUS = 'path://M5,0L5,10M0,5L10,5';
const CROSS = 'path://M0,0L10,10M10,0L0,10';

const names = ['2-Butyne (A00319b)', '2-Pentyne (A00231)', '1-Pentyne (A00230a)',
  '2-Methyl-1-Buten-3-yne (A00232)', '2-Methyl-1-Buten-3-yne (A00320)'];

const chart = echarts.init(document.querySelector('.chart'));
chart.setOption({
  animation: false,
  textStyle: { fontFamily: FONT },
  grid: { left: 110, right: 47, top: 18, bottom: 90, show: true, borderColor: '#000', borderWidth: 3 },
  legend: {
    data: names, left: 113, top: 20, orient: 'vertical', z: 20,
    backgroundColor: '#fff', borderColor: '#555', borderWidth: 1,
    padding: [6, 20, 5, 22], itemWidth: 9, itemHeight: 9, itemGap: 7,
    textStyle: { fontSize: 15, color: '#000', fontFamily: FONT }
  },
  xAxis: {
    type: 'value', min: -3.5, max: -1.0, interval: 0.5,
    axisLine: { onZero: false, lineStyle: { color: '#000', width: 3 } },
    axisTick: { length: 5, lineStyle: { color: '#000', width: 1 } },
    splitLine: { show: false },
    axisLabel: {
      customValues: xTicks.concat(tempLabels.map(toInv)),
      margin: 2, lineHeight: 14, fontSize: 16, color: '#000', fontFamily: FONT,
      formatter: v => isMajor(v) ? '\n' + v.toFixed(1) : String(Math.round(-1000 / v - 273.15))
    }
  },
  yAxis: {
    type: 'log', logBase: 10, min: 0.01, max: 100000,
    axisLine: { show: true, onZero: false, lineStyle: { color: '#000', width: 3 } },
    axisTick: { show: true, length: 5, customValues: yTickValues, lineStyle: { color: '#000' } },
    splitLine: { show: false },
    axisLabel: { fontSize: 16, color: '#000', margin: 13, fontFamily: FONT,
      formatter: v => String(+Number(v).toPrecision(6)) }
  },
  series: [
    { type: 'scatter', name: 'gridlines', data: [], silent: true, z: 1,
      markLine: { silent: true, z: 1, symbol: ['none', 'none'], label: { show: false }, animation: false, data: gridLines } },
    { type: 'scatter', name: names[0], symbol: 'rect', symbolSize: 8, z: 2,
      itemStyle: { color: '#ff0000' },
      data: [].concat(butyneCycles, butyneFlat, butyneExo, butyneLow) },
    { type: 'scatter', name: names[1], symbol: 'rect', symbolSize: 8.5, z: 3,
      itemStyle: { color: 'rgba(0,0,0,0)', borderColor: '#008000', borderWidth: 1.4 },
      data: [].concat(pentyne2Cycles, pentyne2Exo, pentyne2Low, pentyne2High) },
    { type: 'scatter', name: names[2], symbol: 'diamond', symbolSize: 9.5, z: 4,
      itemStyle: { color: 'rgba(0,0,0,0)', borderColor: '#33cccc', borderWidth: 1.5 },
      data: [].concat(pentyne1Cycles, pentyne1Exo, pentyne1Low, pentyne1High) },
    { type: 'scatter', name: names[3], symbol: PLUS, symbolSize: 9, z: 5,
      itemStyle: { color: '#0000ff', borderColor: '#0000ff', borderWidth: 1.5 },
      data: [].concat(mbyA232Cycles, mbyA232Line, mbyA232Low, mbyA232High) },
    { type: 'scatter', name: names[4], symbol: CROSS, symbolSize: 9, z: 6,
      itemStyle: { color: '#800080', borderColor: '#800080', borderWidth: 1.5 },
      data: [].concat(mbyA320Cycles, mbyA320Line, mbyA320Dip, mbyA320Low, mbyA320High) }
  ],
  graphic: [
    { type: 'text', x: 306, y: 209, z: 100,
      style: { text: 'Heat-Wait-Search Step', font: '17.5px ' + FONT, fill: '#000',
        align: 'center', verticalAlign: 'middle', backgroundColor: '#fff', padding: [3, 5] } },
    { type: 'line', z: 100, shape: { x1: 287, y1: 236, x2: 375, y2: 401 }, style: { stroke: '#000', lineWidth: 1.3 } },
    { type: 'polygon', z: 100, shape: { points: [[381, 413], [369.1, 403.4], [379.7, 397.8]] }, style: { fill: '#000' } },
    { type: 'text', x: 543, y: 240, z: 100,
      style: { text: 'Exotherm detected', font: '17.5px ' + FONT, fill: '#000',
        align: 'center', verticalAlign: 'middle', backgroundColor: '#fff', padding: [3, 5] } },
    { type: 'line', z: 100, shape: { x1: 622, y1: 257, x2: 729, y2: 486 }, style: { stroke: '#000', lineWidth: 1.3 } },
    { type: 'polygon', z: 100, shape: { points: [[735, 498], [723.6, 487.9], [734.5, 482.8]] }, style: { fill: '#000' } },
    { type: 'text', x: 17, y: 300, rotation: Math.PI / 2, z: 100,
      style: { text: 'dT/dt [C/min]', font: 'bold 17px ' + FONT, fill: '#000', align: 'center', verticalAlign: 'middle' } },
    { type: 'text', x: 580, y: 667, z: 100,
      style: { text: '{a|-1000/T [K}{s|-1}{a|]}', fill: '#000', align: 'center', verticalAlign: 'middle',
        rich: { a: { fontSize: 18, fontWeight: 'bold', fontFamily: FONT },
                s: { fontSize: 11, fontWeight: 'bold', fontFamily: FONT, verticalAlign: 'top' } } } },
    { type: 'text', x: 1087, y: 592, z: 100,
      style: { text: 'C', font: '16px ' + FONT, fill: '#000', align: 'center', verticalAlign: 'middle' } }
  ]
});
</script>
</body>
</html>
